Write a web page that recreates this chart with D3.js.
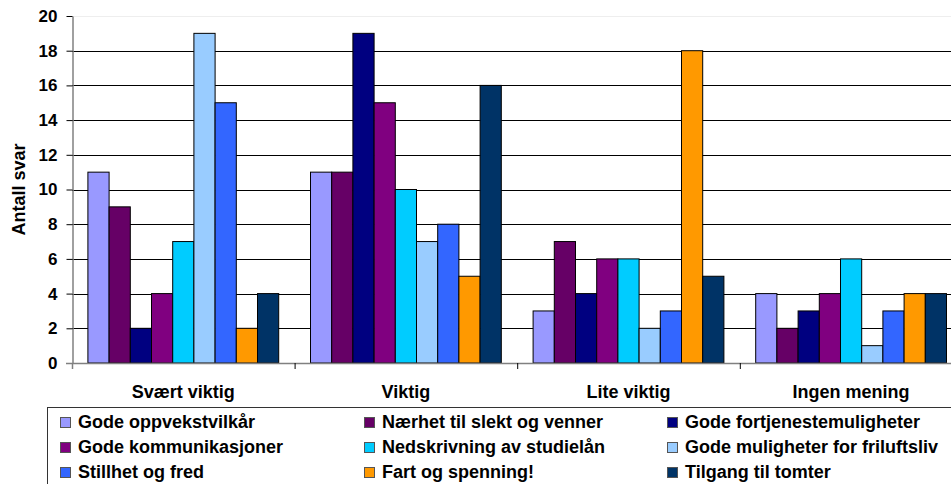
<!DOCTYPE html>
<html>
<head>
<meta charset="utf-8">
<script src="https://cdn.jsdelivr.net/npm/d3@7"></script>
<style>
  html, body { margin: 0; padding: 0; background: #fff; }
  svg { display: block; font-family: "Liberation Sans", Arial, sans-serif; font-weight: bold; }
</style>
</head>
<body>
<svg id="chart" width="951" height="484"></svg>
<script>
const categories = ["Svært viktig", "Viktig", "Lite viktig", "Ingen mening"];
const seriesNames = [
  "Gode oppvekstvilkår",
  "Nærhet til slekt og venner",
  "Gode fortjenestemuligheter",
  "Gode kommunikasjoner",
  "Nedskrivning av studielån",
  "Gode muligheter for friluftsliv",
  "Stillhet og fred",
  "Fart og spenning!",
  "Tilgang til tomter"
];
const seriesColors = ["#9999FF", "#660066", "#000080", "#800080", "#00CCFF", "#99CCFF", "#3366FF", "#FF9900", "#003366"];
// values per series, in category order
const goderOppvekst   = [11, 11, 3, 4];
const naerhet         = [9, 11, 7, 2];
const fortjeneste     = [2, 19, 4, 3];
const kommunikasjon   = [4, 15, 6, 4];
const studielan       = [7, 10, 6, 6];
const friluftsliv     = [19, 7, 2, 1];
const stillhet        = [15, 8, 3, 3];
const fart            = [2, 5, 18, 4];
const tomter          = [4, 16, 5, 4];
const seriesValues = [goderOppvekst, naerhet, fortjeneste, kommunikasjon, studielan, friluftsliv, stillhet, fart, tomter];
const yTicks = [0, 2, 4, 6, 8, 10, 12, 14, 16, 18, 20];
const yTitle = "Antall svar";

const svg = d3.select("#chart");

const plotLeft = 72, plotRight = 962.4, plotTop = 16, plotBottom = 363;

const x0 = d3.scaleBand().domain(categories).range([plotLeft, plotRight]).paddingInner(0).paddingOuter(0);
const x1 = d3.scaleBand().domain(seriesNames).range([0, x0.bandwidth()]).paddingInner(0).paddingOuter(0.75);
const y = d3.scaleLinear().domain([0, 20]).range([plotBottom, plotTop]);

// gridlines
svg.append("g").selectAll("line")
  .data(yTicks.filter(t => t > 0))
  .join("line")
  .attr("x1", plotLeft).attr("x2", plotRight)
  .attr("y1", d => Math.round(y(d)) + 0.5).attr("y2", d => Math.round(y(d)) + 0.5)
  .attr("stroke", d => d === 20 ? "#eeeeee" : "#000")
  .attr("stroke-width", 1);

// bars
const groups = svg.append("g").selectAll("g")
  .data(categories)
  .join("g")
  .attr("transform", d => `translate(${x0(d)},0)`);

groups.selectAll("rect")
  .data((c, ci) => seriesNames.map((s, si) => ({ s, si, v: seriesValues[si][ci] })))
  .join("rect")
  .attr("x", d => x1(d.s))
  .attr("y", d => y(d.v))
  .attr("width", x1.bandwidth())
  .attr("height", d => y(0) - y(d.v))
  .attr("fill", d => seriesColors[d.si])
  .attr("stroke", "#000")
  .attr("stroke-width", 1);

// y axis
const yAxis = svg.append("g")
  .attr("transform", `translate(${plotLeft + 0.5},0)`)
  .call(d3.axisLeft(y).tickValues(yTicks).tickSize(6).tickPadding(9).tickSizeOuter(0));
yAxis.select(".domain").attr("stroke", "#808080").attr("stroke-width", 1.5);
yAxis.selectAll(".tick line").attr("stroke", "#000");
yAxis.selectAll(".tick text")
  .attr("fill", "#000")
  .style("font-size", "17px")
  .style("font-weight", "bold")
  .style("font-family", "'Liberation Sans', Arial, sans-serif");

// x axis
const xAxisG = svg.append("g");
xAxisG.append("line")
  .attr("x1", plotLeft - 6).attr("x2", plotRight)
  .attr("y1", plotBottom + 0.5).attr("y2", plotBottom + 0.5)
  .attr("stroke", "#808080").attr("stroke-width", 1.5);
xAxisG.selectAll("line.tk")
  .data(categories)
  .join("line")
  .attr("class", "tk")
  .attr("x1", d => x0(d) + 0.5).attr("x2", d => x0(d) + 0.5)
  .attr("y1", plotBottom).attr("y2", plotBottom + 6)
  .attr("stroke", d => d === categories[0] ? "#808080" : "#000")
  .attr("stroke-width", d => d === categories[0] ? 1.5 : 1);
xAxisG.selectAll("text")
  .data(categories)
  .join("text")
  .attr("x", d => x0(d) + x0.bandwidth() / 2)
  .attr("y", 398)
  .attr("text-anchor", "middle")
  .style("font-size", "18px")
  .text(d => d);

// y title
svg.append("text")
  .attr("transform", `translate(25,${(plotTop + plotBottom) / 2}) rotate(-90)`)
  .attr("text-anchor", "middle")
  .style("font-size", "18px")
  .text(yTitle);

// legend
const legend = svg.append("g");
legend.append("rect")
  .attr("x", 47.5).attr("y", 407.5)
  .attr("width", 960).attr("height", 100)
  .attr("fill", "#fff").attr("stroke", "#333").attr("stroke-width", 1);

const colX = [60, 364, 667];
const rowY = [428, 453, 478];
const items = legend.selectAll("g.item")
  .data(seriesNames)
  .join("g")
  .attr("class", "item")
  .attr("transform", (d, i) => `translate(${colX[i % 3]},${rowY[Math.floor(i / 3)]})`);
items.append("rect")
  .attr("x", 0.5).attr("y", -10.5)
  .attr("width", 10).attr("height", 10)
  .attr("fill", (d, i) => seriesColors[i])
  .attr("stroke", "#555").attr("stroke-width", 1);
items.append("text")
  .attr("x", 18).attr("y", 0)
  .style("font-size", "18px")
  .text(d => d);
</script>
</body>
</html>
